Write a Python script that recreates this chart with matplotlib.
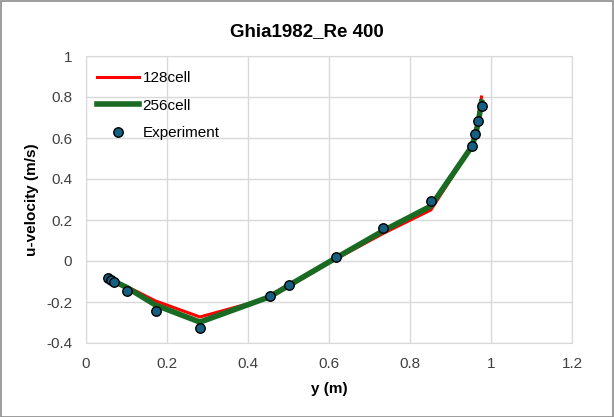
import matplotlib
matplotlib.use("Agg")
import matplotlib.pyplot as plt
from matplotlib.patches import Rectangle

plt.rcParams['font.family'] = ['Liberation Sans', 'DejaVu Sans']

y_exp = [0.0547, 0.0625, 0.0703, 0.1016, 0.1719, 0.2813, 0.4531, 0.5, 0.6172,
         0.7344, 0.8516, 0.9531, 0.9609, 0.9688, 0.9766]
u_exp = [-0.08186, -0.09266, -0.10338, -0.14612, -0.24299, -0.32726, -0.17119,
         -0.11477, 0.02135, 0.16256, 0.29093, 0.55892, 0.61756, 0.68439, 0.75837]

y_sim = [0.0547, 0.0625, 0.0703, 0.1016, 0.1719, 0.2813, 0.4531, 0.5, 0.6172,
         0.7344, 0.8516, 0.9531, 0.9609, 0.9688, 0.9766]
u_128 = [-0.080, -0.090, -0.100, -0.125, -0.195, -0.273, -0.180, -0.125, 0.010,
         0.135, 0.249, 0.560, 0.625, 0.695, 0.800]
u_256 = [-0.080, -0.090, -0.100, -0.130, -0.215, -0.298, -0.175, -0.120, 0.015,
         0.148, 0.268, 0.560, 0.610, 0.680, 0.775]

fig = plt.figure(figsize=(6.14, 4.17), dpi=100)
ax = fig.add_axes([86/614, 1-343/417, (572-86)/614, (343-56)/417])

ax.plot(y_sim, u_128, color='#FF0000', lw=2.2, label='128cell', zorder=3)
ax.plot(y_sim, u_256, color='#196B24', lw=4.0, label='256cell', zorder=4)
ax.plot(y_exp, u_exp, 'o', ms=6.8, mfc='#156082', mec='black', mew=1.0,
        label='Experiment', zorder=5)

ax.set_xlim(0, 1.2)
ax.set_ylim(-0.4, 1.0)
ax.set_xticks([0, 0.2, 0.4, 0.6, 0.8, 1.0, 1.2])
ax.set_xticklabels(['0', '0.2', '0.4', '0.6', '0.8', '1', '1.2'])
ax.set_yticks([-0.4, -0.2, 0, 0.2, 0.4, 0.6, 0.8, 1.0])
ax.set_yticklabels(['-0.4', '-0.2', '0', '0.2', '0.4', '0.6', '0.8', '1'])
ax.grid(True, color='#D9D9D9', lw=1.0)
ax.set_axisbelow(True)
for s in ax.spines.values():
    s.set_color('#D9D9D9')
ax.tick_params(length=0, labelsize=11, colors='#404040', pad=10)
ax.set_xlabel('y (m)', fontsize=11, fontweight='bold', labelpad=8)
ax.set_ylabel('u-velocity (m/s)', fontsize=11, fontweight='bold', labelpad=5)
fig.text(0.5, 1-32/417, 'Ghia1982_Re 400', ha='center', va='center',
         fontsize=13.5, fontweight='bold')

leg = ax.legend(loc='upper left', bbox_to_anchor=(0.0, 0.985), frameon=False,
                fontsize=11, handlelength=2.8, labelspacing=0.9,
                handletextpad=0.2, borderaxespad=0.3)

fig.patches.append(Rectangle((0.001, 0.001), 0.997, 0.996, transform=fig.transFigure,
                             fill=False, edgecolor='#8C8C8C', lw=1.2))
fig.savefig('out.png', dpi=100)
